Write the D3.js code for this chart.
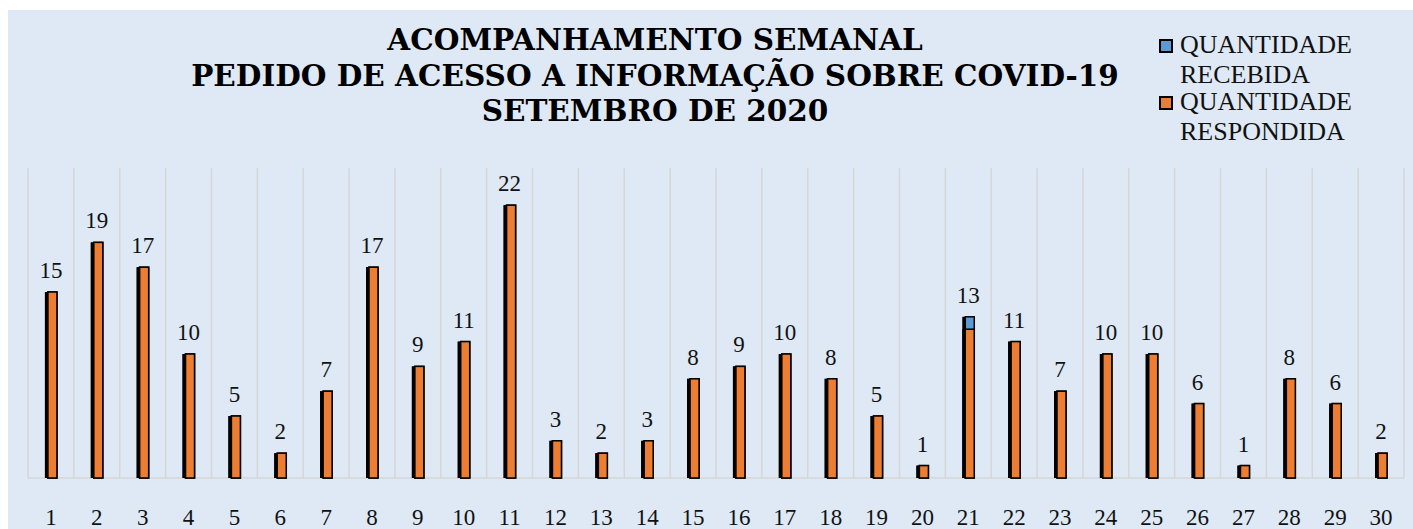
<!DOCTYPE html>
<html>
<head>
<meta charset="utf-8">
<script src="https://cdn.jsdelivr.net/npm/d3@7"></script>
<style>
  body { margin: 0; background: #fff; }
  svg { display: block; }
</style>
</head>
<body>
<div id="chart"></div>
<script>
const days = ['1','2','3','4','5','6','7','8','9','10','11','12','13','14','15','16','17','18','19','20','21','22','23','24','25','26','27','28','29','30'];
const recebida = [15,19,17,10,5,2,7,17,9,11,22,3,2,3,8,9,10,8,5,1,13,11,7,10,10,6,1,8,6,2];
const respondida = [15,19,17,10,5,2,7,17,9,11,22,3,2,3,8,9,10,8,5,1,12,11,7,10,10,6,1,8,6,2];
const titleLines = ['ACOMPANHAMENTO SEMANAL', 'PEDIDO DE ACESSO A INFORMAÇÃO SOBRE COVID-19', 'SETEMBRO DE 2020'];
const legendItems = [
  { lines: ['QUANTIDADE', 'RECEBIDA'], color: '#5b9bd5' },
  { lines: ['QUANTIDADE', 'RESPONDIDA'], color: '#ed7d31' }
];

const width = 1413, height = 529;
const serif = 'Liberation Serif, Times New Roman, serif';

const svg = d3.select('#chart').append('svg')
  .attr('width', width)
  .attr('height', height);

// panel background
svg.append('rect')
  .attr('x', 8).attr('y', 10)
  .attr('width', width - 8).attr('height', height - 10)
  .attr('fill', '#dee9f5');

const x = d3.scaleBand()
  .domain(days)
  .range([28, 1404]);

const y = d3.scaleLinear()
  .domain([0, 25])
  .range([478, 168]);

// vertical gridlines at band edges
const edges = days.map(d => x(d)).concat([x.range()[1]]);
svg.append('g')
  .selectAll('line')
  .data(edges)
  .join('line')
  .attr('x1', d => d).attr('x2', d => d)
  .attr('y1', y(25)).attr('y2', y(0))
  .attr('stroke', '#d6d6d6')
  .attr('stroke-width', 1.5);

// baseline
svg.append('line')
  .attr('x1', x.range()[0]).attr('x2', x.range()[1])
  .attr('y1', y(0)).attr('y2', y(0))
  .attr('stroke', '#d6d6d6')
  .attr('stroke-width', 1.5);

const barW = 9;
const shadow = 3;

function drawBars(values, color) {
  const g = svg.append('g');
  // shadow to the left
  g.selectAll('rect.shadow')
    .data(values)
    .join('rect')
    .attr('class', 'shadow')
    .attr('x', (d, i) => x(days[i]) + x.bandwidth() / 2 - barW / 2 + 1.5 - shadow)
    .attr('y', d => y(d))
    .attr('width', barW)
    .attr('height', d => y(0) - y(d))
    .attr('fill', '#000');
  g.selectAll('rect.bar')
    .data(values)
    .join('rect')
    .attr('class', 'bar')
    .attr('x', (d, i) => x(days[i]) + x.bandwidth() / 2 - barW / 2 + 1.5)
    .attr('y', d => y(d))
    .attr('width', barW)
    .attr('height', d => y(0) - y(d))
    .attr('fill', color)
    .attr('stroke', '#000')
    .attr('stroke-width', 1.5);
}

drawBars(recebida, '#5b9bd5');
drawBars(respondida, '#ed7d31');

// value labels
svg.append('g')
  .selectAll('text')
  .data(recebida)
  .join('text')
  .attr('x', (d, i) => x(days[i]) + x.bandwidth() / 2)
  .attr('y', d => y(d) - 14)
  .attr('text-anchor', 'middle')
  .attr('font-family', serif)
  .attr('font-size', 23)
  .attr('fill', '#111')
  .text(d => d);

// x axis labels (partly cut by the bottom edge, as in the original)
svg.append('g')
  .selectAll('text')
  .data(days)
  .join('text')
  .attr('x', d => x(d) + x.bandwidth() / 2)
  .attr('y', 525)
  .attr('text-anchor', 'middle')
  .attr('font-family', serif)
  .attr('font-size', 23)
  .attr('fill', '#111')
  .text(d => d);

// title
svg.append('g')
  .selectAll('text')
  .data(titleLines)
  .join('text')
  .attr('x', 655)
  .attr('y', (d, i) => 50 + i * 35.5)
  .attr('text-anchor', 'middle')
  .attr('font-family', 'DejaVu Serif, serif')
  .attr('font-weight', 'bold')
  .attr('font-size', 29.5)
  .attr('fill', '#000')
  .text(d => d);

// legend
const legend = svg.append('g');
legendItems.forEach((item, i) => {
  const top = 53 + i * 57;
  legend.append('rect')
    .attr('x', 1160).attr('y', top - 13)
    .attr('width', 12).attr('height', 12)
    .attr('fill', item.color)
    .attr('stroke', '#000')
    .attr('stroke-width', 2);
  item.lines.forEach((t, j) => {
    legend.append('text')
      .attr('x', 1180)
      .attr('y', top + j * 30)
      .attr('font-family', serif)
      .attr('font-size', 26)
      .attr('fill', '#111')
      .text(t);
  });
});
</script>
</body>
</html>
